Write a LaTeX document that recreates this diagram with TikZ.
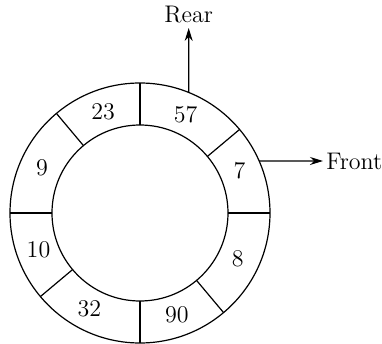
\documentclass[tikz,border=0pt]{standalone}
\usetikzlibrary{arrows.meta}
\tikzset{
  ring/.style={draw, line width=0.6pt},
  val/.style={inner sep=1pt, font=\large},
  tag/.style={inner sep=2.5pt, font=\large},
  a/.style={-{Stealth[length=6.5pt, width=4pt]}, line width=0.6pt},
}
\begin{document}
\begin{tikzpicture}[x=0.5pt, y=0.5pt]
\useasboundingbox (-140,-131) rectangle (242,213);
% ring of cells
\draw[ring] (0,0) circle (130);
\draw[ring] (0,0) circle (88);
\foreach \t in {0,40,90,130,180,220,270,310}
  \draw[ring] (\t:88) -- (\t:130);
% values
\foreach \v/\ang/\n in {7/23/c0, 57/65/c1, 23/110/c2, 9/155/c3,
                       10/200/c4, 32/242/c5, 90/290/c6, 8/335/c7}
  \node[val] (\n) at (\ang:108) {\v};
% pointers
\coordinate (rp) at (68:130);
\coordinate (fp) at (23.6:130);
\node[tag, anchor=south] (rear) at (48.7,185) {Rear};
\node[tag, anchor=west, inner sep=1.5pt] (front) at (183,52) {Front};
\draw[a] (rp) -- (rear);
\draw[a] (fp) -- (front);
\end{tikzpicture}
\end{document}
